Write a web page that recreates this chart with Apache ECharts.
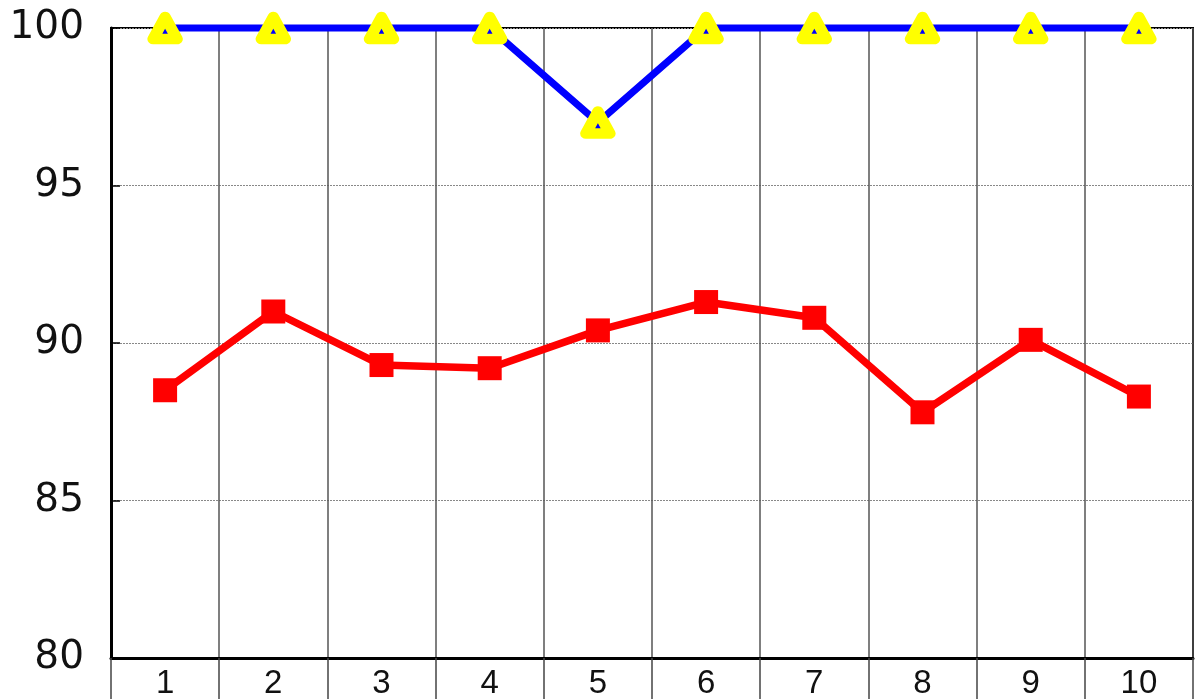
<!DOCTYPE html>
<html>
<head>
<meta charset="utf-8">
<script src="https://cdn.jsdelivr.net/npm/echarts@6/dist/echarts.min.js"></script>
<style>html,body{margin:0;padding:0;background:#fff}#c{width:1198px;height:700px}</style>
</head>
<body>
<div id="c"></div>
<script>
var categories = ['1','2','3','4','5','6','7','8','9','10'];
var blueValues = [100,100,100,100,97,100,100,100,100,100];
var redValues = [88.5,91.0,89.3,89.2,90.4,91.3,90.8,87.8,90.1,88.3];
var yMin = 80, yMax = 100, yInterval = 5;

var chart = echarts.init(document.getElementById('c'), null, {renderer:'canvas'});
chart.setOption({
  animation: false,
  backgroundColor: '#fff',
  grid: {left:111, top:28, right:5, bottom:41, show:true, borderColor:'#000', borderWidth:2, backgroundColor:'transparent'},
  xAxis: {
    type:'category', data:categories, boundaryGap:true,
    axisLine:{show:true, lineStyle:{color:'#000', width:3}},
    axisTick:{show:true, interval:0, length:41, lineStyle:{color:'#444', width:1.5}},
    splitLine:{show:true, interval:0, lineStyle:{color:'#555', width:1.5}},
    axisLabel:{fontSize:33, color:'#111', margin:9, fontFamily:'"Liberation Sans", Arial, sans-serif', interval:0}
  },
  yAxis: {
    type:'value', min:yMin, max:yMax, interval:yInterval,
    axisLine:{show:true, lineStyle:{color:'#000', width:3}},
    axisTick:{show:true, inside:true, length:9, lineStyle:{color:'#000', width:1.5}},
    splitLine:{show:true, lineStyle:{color:'#888', width:1, type:[2,1]}},
    axisLabel:{fontSize:39, color:'#111', margin:27, fontFamily:'"DejaVu Sans", sans-serif'}
  },
  series: [
    {
      type:'line', data:blueValues, clip:false, z:3,
      lineStyle:{color:'#0000ff', width:7},
      symbol:'triangle', symbolSize:[24,22],
      itemStyle:{color:'#0000ff', borderColor:'#ffff00', borderWidth:11, borderJoin:'round'}
    },
    {
      type:'line', data:redValues, clip:false, z:4,
      lineStyle:{color:'#ff0000', width:7.5},
      symbol:'rect', symbolSize:24,
      itemStyle:{color:'#ff0000', borderWidth:0}
    }
  ]
});
</script>
</body>
</html>
